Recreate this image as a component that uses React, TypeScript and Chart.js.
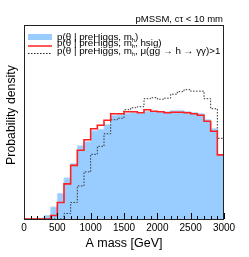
import React, { useEffect, useRef } from "react";
import { Chart, registerables } from "chart.js";

Chart.register(...registerables);

// Bin edges: 0..3000 GeV, 100 GeV bins
const binEdges: number[] = [
  0, 100, 200, 300, 400, 500, 600, 700, 800, 900, 1000, 1100, 1200, 1300, 1400,
  1500, 1600, 1700, 1800, 1900, 2000, 2100, 2200, 2300, 2400, 2500, 2600, 2700,
  2800, 2900, 3000,
];

// p(θ | preHiggs, m_h) — filled light blue
const bluePrior: number[] = [
  0, 0, 0.7, 3.5, 12, 25.5, 41, 55, 73, 77, 88, 89.5, 94, 103.5, 104, 105.5,
  106, 105.5, 107.5, 107.5, 107, 107, 108, 108, 107, 106, 105, 99, 90, 64,
];

// p(θ | preHiggs, m_h, hsig) — red line
const redHsig: number[] = [
  0, 0, 0, 0, 3.5, 16.5, 35, 53.5, 68.5, 79, 90, 93.5, 98.5, 105, 105, 107,
  107, 106, 109, 107.5, 107, 106, 106.5, 106.5, 106, 105, 103.5, 97.5, 87.5, 64,
];

// p(θ | preHiggs, m_h, μ(gg→h→γγ)>1) — black dotted
const blackMu: number[] = [
  0, 0, 0, 0, 0, 0, 5.5, 16.5, 33, 47, 64.5, 72.5, 85, 99, 100.5, 109, 111,
  112, 120, 121, 119.5, 120.5, 124.5, 127, 129, 127.5, 127.5, 120, 110, 80.5,
];

const xTicks: number[] = [0, 500, 1000, 1500, 2000, 2500, 3000];
const xTickLabels: string[] = ["0", "500", "1000", "1500", "2000", "2500", "3000"];
const yMax = 193.5;

const FONT = "'Liberation Sans', Arial, Helvetica, sans-serif";

function toSteps(vals: number[]) {
  const pts = vals.map((v, i) => ({ x: binEdges[i], y: v }));
  pts.push({ x: binEdges[binEdges.length - 1], y: vals[vals.length - 1] });
  return pts;
}

type Seg = { t: string; k?: "sub" | "subsup"; sup?: string };

function drawRich(ctx: CanvasRenderingContext2D, segs: Seg[], x: number, y: number, size: number) {
  let cx = x;
  for (const s of segs) {
    if (!s.k) {
      ctx.font = `${size}px ${FONT}`;
      ctx.fillText(s.t, cx, y);
      cx += ctx.measureText(s.t).width;
    } else if (s.k === "sub") {
      ctx.font = `${size * 0.55}px ${FONT}`;
      ctx.fillText(s.t, cx, y + size * 0.25);
      cx += ctx.measureText(s.t).width;
    } else {
      ctx.font = `${size * 0.55}px ${FONT}`;
      ctx.fillText(s.t, cx, y + size * 0.25);
      const w1 = ctx.measureText(s.t).width;
      const sp = s.sup || "";
      ctx.fillText(sp, cx, y - size * 0.4);
      const w2 = ctx.measureText(sp).width;
      cx += Math.max(w1, w2);
    }
  }
}

const decorPlugin = {
  id: "rootDecor",
  afterDraw(chart: any) {
    const ctx: CanvasRenderingContext2D = chart.ctx;
    const { left, right, top, bottom } = chart.chartArea;
    const xs = chart.scales.x;
    ctx.save();
    // ticks (inward)
    ctx.strokeStyle = "#000";
    ctx.lineWidth = 1;
    for (let v = 0; v <= 3000; v += 100) {
      const px = Math.round(xs.getPixelForValue(v)) + 0.5;
      const len = v % 500 === 0 ? 6 : 3;
      ctx.beginPath();
      ctx.moveTo(px, bottom);
      ctx.lineTo(px, bottom - len);
      ctx.stroke();
    }
    // frame
    ctx.strokeStyle = "#222";
    ctx.strokeRect(left + 0.5, top + 0.5, right - left - 1, bottom - top);

    // top-right label
    ctx.fillStyle = "#000";
    ctx.textAlign = "right";
    ctx.textBaseline = "alphabetic";
    ctx.font = `9.5px ${FONT}`;
    ctx.fillText("pMSSM, cτ < 10 mm", right - 1, 22);

    // y-axis title
    ctx.save();
    ctx.translate(15, 115);
    ctx.rotate(-Math.PI / 2);
    ctx.textAlign = "center";
    ctx.textBaseline = "alphabetic";
    ctx.font = `12.3px ${FONT}`;
    ctx.fillText("Probability density", 0, 0);
    ctx.restore();

    // legend symbols
    const lx0 = 28;
    const lx1 = 52;
    ctx.fillStyle = "#99ccff";
    ctx.fillRect(lx0, 34, lx1 - lx0, 6);
    ctx.strokeStyle = "#ff2020";
    ctx.lineWidth = 1.5;
    ctx.beginPath();
    ctx.moveTo(lx0, 46);
    ctx.lineTo(lx1, 46);
    ctx.stroke();
    ctx.strokeStyle = "#222";
    ctx.lineWidth = 1;
    ctx.setLineDash([1.5, 1.5]);
    ctx.beginPath();
    ctx.moveTo(lx0, 53.5);
    ctx.lineTo(lx1, 53.5);
    ctx.stroke();
    ctx.setLineDash([]);

    // legend text
    ctx.fillStyle = "#000";
    ctx.textAlign = "left";
    ctx.textBaseline = "alphabetic";
    const tx = 57;
    const fs = 9.8;
    drawRich(ctx, [{ t: "p(θ | preHiggs, m" }, { t: "h", k: "sub" }, { t: ")" }], tx, 39.5, fs);
    drawRich(ctx, [{ t: "p(θ | preHiggs, m" }, { t: "h", k: "subsup", sup: "′" }, { t: ", hsig)" }], tx, 45.5, fs);
    drawRich(
      ctx,
      [{ t: "p(θ | preHiggs, m" }, { t: "h", k: "subsup", sup: "′" }, { t: ", μ(gg → h → γγ)>1" }],
      tx,
      53.5,
      fs
    );
    ctx.restore();
  },
};

export default function App() {
  const ref = useRef<HTMLCanvasElement | null>(null);
  useEffect(() => {
    if (!ref.current) return;
    const chart = new Chart(ref.current, {
      type: "line",
      data: {
        datasets: [
          {
            label: "hsig",
            data: toSteps(redHsig),
            stepped: true,
            borderColor: "#ff2020",
            borderWidth: 1.6,
            pointRadius: 0,
            fill: false,
          },
          {
            label: "mu",
            data: toSteps(blackMu),
            stepped: true,
            borderColor: "#333",
            borderWidth: 1,
            borderDash: [1.5, 1.5],
            pointRadius: 0,
            fill: false,
          },
          {
            label: "prior",
            data: toSteps(bluePrior),
            stepped: true,
            borderColor: "#b8dcff",
            borderWidth: 1,
            backgroundColor: "#99ccff",
            pointRadius: 0,
            fill: "origin",
          },
        ],
      },
      options: {
        responsive: false,
        animation: false,
        devicePixelRatio: 1,
        layout: { padding: { left: 24, right: 25, top: 25, bottom: 0 } },
        plugins: { legend: { display: false }, tooltip: { enabled: false } },
        scales: {
          x: {
            type: "linear",
            min: 0,
            max: 3000,
            afterBuildTicks: (s: any) => {
              s.ticks = xTicks.map((v) => ({ value: v }));
            },
            afterFit: (s: any) => {
              s.height = 38;
            },
            ticks: {
              color: "#000",
              padding: 3,
              maxRotation: 0,
              autoSkip: false,
              font: { family: FONT, size: 10 },
              callback: (v: any) => {
                const i = xTicks.indexOf(Number(v));
                return i >= 0 ? xTickLabels[i] : String(v);
              },
            },
            grid: { display: false, drawTicks: false },
            border: { display: false },
            title: {
              display: true,
              text: "A mass [GeV]",
              color: "#000",
              font: { family: FONT, size: 12.5 },
              padding: { top: 0, bottom: 6 },
            },
          },
          y: {
            display: false,
            min: 0,
            max: yMax,
          },
        },
      },
      plugins: [decorPlugin],
    } as any);
    return () => chart.destroy();
  }, []);
  return (
    <div style={{ position: "absolute", left: 0, top: 0, width: 249, height: 257, background: "#fff" }}>
      <canvas ref={ref} width={249} height={257} style={{ display: "block" }} />
    </div>
  );
}
